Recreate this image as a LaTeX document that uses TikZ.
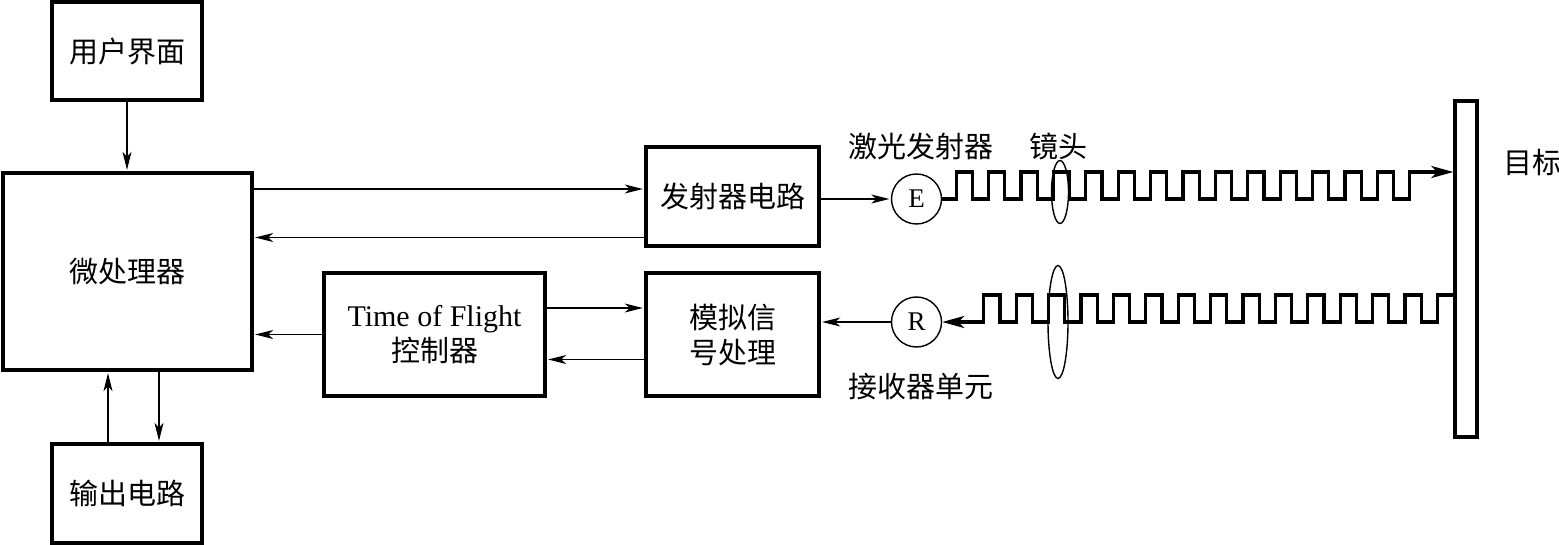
\documentclass[tikz,border=0pt]{standalone}
\usepackage{fontspec}
\setmainfont{Liberation Serif}
\newfontfamily\cjk{Noto Sans CJK SC}
\usetikzlibrary{arrows.meta}

\begin{document}
\begin{tikzpicture}[x=1pt,y=-1pt]
            \useasboundingbox (0,0) rectangle (1559,545);
            \tikzstyle{every node}=[inner sep=0pt, font=\cjk\fontsize{29}{35}\selectfont, text=black]
            \tikzstyle{block}=[draw=black, line width=3.4pt, align=center]
            \tikzstyle{optic}=[circle, draw=black, line width=1.4pt, minimum size=50pt, font=\rmfamily\fontsize{27}{27}\selectfont]
            \tikzstyle{edge}=[black, line width=1.4pt, shorten >=1.5pt, -{Stealth[length=18pt,width=9pt,inset=5pt]}]
            \tikzstyle{wave}=[black, line width=3.2pt, line join=miter]

            \node[block, minimum width=150pt, minimum height=98pt] (ui) at (127,51) {用户界面};
            \node[block, minimum width=249pt, minimum height=197pt] (mcu) at (127.5,271.5) {微处理器};
            \node[block, minimum width=150pt, minimum height=99pt] (out) at (127,493.5) {输出电路};
            \node[block, minimum width=173pt, minimum height=99pt] (tx) at (732.5,196.5) {发射器电路};
            \node[block, minimum width=221pt, minimum height=123pt] (tof) at (434.5,334.5) {{\rmfamily\fontsize{30}{35}\selectfont Time of Flight}\\控制器};
            \node[block, minimum width=173pt, minimum height=123pt] (afe) at (732.5,334.5) {模拟信\\号处理};
            \node[optic] (E) at (916.5,199) {E};
            \node[optic] (R) at (916.5,322) {R};

            \node (laser) at (921,146) {激光发射器};
            \node (lens) at (1058,146) {镜头};
            \node (rx) at (921,387) {接收器单元};
            \node (target) at (1532,162) {目标};

            \draw[edge] (ui.south) -- (ui.south |- mcu.north);
            \draw[edge] ([yshift=7.5pt]tx.west -| mcu.east) -- ([yshift=7.5pt]tx.west);
            \draw[edge] ([yshift=-41pt]tx.west) -- ([yshift=-41pt]tx.west -| mcu.east);
            \draw[edge] (tof.west) -- (tof.west -| mcu.east);
            \draw[edge] ([yshift=26.5pt]tof.east) -- ([yshift=26.5pt]tof.east -| afe.west);
            \draw[edge] ([yshift=-25pt]afe.west) -- ([yshift=-25pt]afe.west -| tof.east);
            \draw[edge] (tx.east |- E.west) -- (E.west);
            \draw[edge] (R.west) -- (R.west -| afe.east);
            \draw[edge] ([xshift=-19pt]out.north) -- ([xshift=-19pt]out.north |- mcu.south);
            \draw[edge] ([xshift=31.5pt]mcu.south) -- ([xshift=31.5pt]mcu.south |- out.north);

            \draw[wave, -{Stealth[length=22pt,width=12pt,inset=6pt]}] (E.east) -- ++(14,0)
                \foreach \k in {1,...,14} { -- ++(0,-27) -- ++(16.2,0) -- ++(0,27) -- ++(16.2,0) }
                -- ++(0,-27) -- ++(43.5,0);
            \draw[wave, {Stealth[length=22pt,width=12pt,inset=6pt]}-] (R.east) -- ++(41.5,0)
                \foreach \k in {1,...,14} { -- ++(0,-27) -- ++(16.2,0) -- ++(0,27) -- ++(16.2,0) }
                -- ++(0,-27) -- ++(16.5,0);

            \node[block, fill=white, minimum width=22pt, minimum height=336pt] (tgt) at (1466,269) {};

            \draw[line width=1.4pt] (1060,192) ellipse [x radius=8.5, y radius=31.5];
            \draw[line width=1.4pt] (1058,322) ellipse [x radius=10, y radius=56.5];
        \end{tikzpicture}
\end{document}
